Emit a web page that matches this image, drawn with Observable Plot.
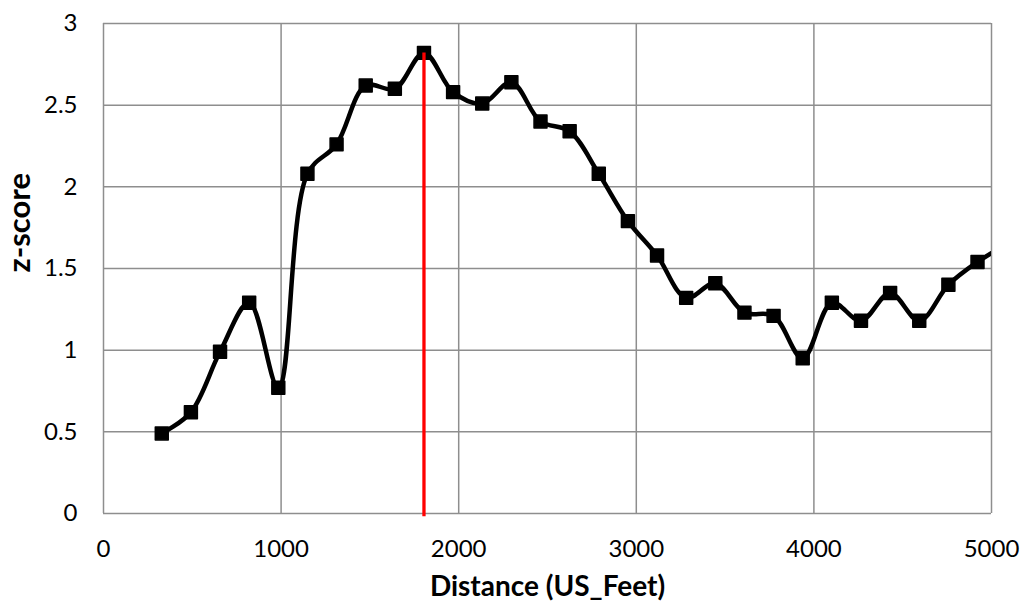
<!DOCTYPE html>
<html>
<head>
<meta charset="utf-8">
<script src="https://cdn.jsdelivr.net/npm/d3@7"></script>
<script src="https://cdn.jsdelivr.net/npm/@observablehq/plot@0.6"></script>
<style>
  html, body { margin: 0; padding: 0; background: white; }
</style>
</head>
<body>
<div id="chart"></div>
<script>
// Data
const distance = [328.08, 492.13, 656.17, 820.21, 984.25, 1148.29, 1312.34, 1476.38, 1640.42, 1804.46,
  1968.50, 2132.55, 2296.59, 2460.63, 2624.67, 2788.71, 2952.76, 3116.80, 3280.84, 3444.88,
  3608.92, 3772.97, 3937.01, 4101.05, 4265.09, 4429.13, 4593.18, 4757.22, 4921.26, 5085.30];
const zscore = [0.49, 0.62, 0.99, 1.29, 0.77, 2.08, 2.26, 2.62, 2.60, 2.82,
  2.58, 2.51, 2.64, 2.40, 2.34, 2.08, 1.79, 1.58, 1.32, 1.41,
  1.23, 1.21, 0.95, 1.29, 1.18, 1.35, 1.18, 1.40, 1.54, 1.65];
const peakDistance = [1804.46];
const peakZ = 2.82;
const xTicks = [0, 1000, 2000, 3000, 4000, 5000];
const yTicks = [0, 0.5, 1, 1.5, 2, 2.5, 3];
const xTitle = "Distance (US_Feet)";
const yTitle = "z-score";

const data = distance.map((d, i) => ({distance: d, z: zscore[i]}));
const gridColor = "#8e8e8e";

const chart = Plot.plot({
  width: 1021,
  height: 606,
  marginLeft: 103,
  marginRight: 30,
  marginTop: 23,
  marginBottom: 93,
  style: {fontFamily: "Lato, 'Open Sans', sans-serif", fontSize: "24px", background: "white", color: "black"},
  x: {domain: [0, 5000]},
  y: {domain: [0, 3]},
  marks: [
    Plot.gridX(xTicks, {stroke: gridColor, strokeOpacity: 1, strokeWidth: 1.5}),
    Plot.gridY(yTicks, {stroke: gridColor, strokeOpacity: 1, strokeWidth: 1.5}),
    Plot.axisX(xTicks, {tickSize: 0, tickPadding: 26, tickFormat: d => String(d), label: null}),
    Plot.axisY(yTicks, {tickSize: 0, tickPadding: 26, tickFormat: d => String(d), label: null}),
    Plot.line(data, {x: "distance", y: "z", stroke: "black", strokeWidth: 4.5, curve: "catmull-rom", clip: true}),
    Plot.dot(data, {x: "distance", y: "z", symbol: "square", r: 7.3, fill: "black", stroke: "black", strokeWidth: 1.5, strokeLinejoin: "round", clip: true}),
    Plot.ruleX(peakDistance, {x: d => d, y1: -0.02, y2: peakZ, stroke: "#ff0000", strokeWidth: 3.3}),
    Plot.text([xTitle], {frameAnchor: "bottom", dy: 74, text: d => d, fontWeight: "bold", fontSize: 28, lineAnchor: "middle"}),
    Plot.text([yTitle], {frameAnchor: "left", dx: -83, dy: 4, rotate: -90, text: d => d, fontWeight: "bold", fontSize: 31, lineAnchor: "middle"})
  ]
});
document.getElementById("chart").appendChild(chart);
</script>
</body>
</html>
